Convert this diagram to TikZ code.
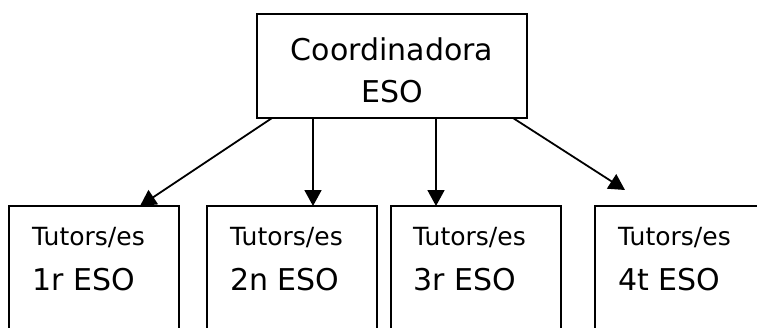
\documentclass[tikz,border=0pt]{standalone}
\usepackage{fontspec}
\setmainfont{DejaVu Sans}
\usetikzlibrary{arrows.meta}
\begin{document}
\begin{tikzpicture}[x=1pt,y=-1pt,
        coordbox/.style={draw,line width=1.8pt,outer sep=0pt,minimum width=270pt,minimum height=104pt,
            align=center,font=\fontsize{30}{42}\selectfont,text height=73pt,text depth=0pt},
        tutorbox/.style={draw,line width=1.8pt,outer sep=0pt,anchor=north west,minimum width=170pt,minimum height=160pt},
        tutortext/.style={anchor=base west,align=left,inner sep=0pt,font=\fontsize{25}{45}\selectfont},
        arr/.style={line width=1.8pt,-{Triangle[length=16pt,width=17pt]}}]
    \useasboundingbox (0,0) rectangle (757,327);
    \clip (0,0) rectangle (757,327);
    \node[coordbox] (coord) at (392,66) {Coordinadora\\ESO};
    \node[tutorbox] (t1) at (9,206) {};
    \node[tutorbox] (t2) at (207,206) {};
    \node[tutorbox] (t3) at (391,206) {};
    \node[tutorbox] (t4) at (595,206) {};
    \node[tutortext] (l1) at (32,290) {Tutors/es\\{\fontsize{30}{45}\selectfont 1r ESO}};
    \node[tutortext] (l2) at (230,290) {Tutors/es\\{\fontsize{30}{45}\selectfont 2n ESO}};
    \node[tutortext] (l3) at (413,290) {Tutors/es\\{\fontsize{30}{45}\selectfont 3r ESO}};
    \node[tutortext] (l4) at (618,290) {Tutors/es\\{\fontsize{30}{45}\selectfont 4t ESO}};
    \draw[arr] ([xshift=15pt]coord.south west) -- ([xshift=131pt]t1.north west);
    \draw[arr] ([xshift=56pt]coord.south west) -- ([xshift=106pt]t2.north west);
    \draw[arr] ([xshift=179pt]coord.south west) -- ([xshift=45pt]t3.north west);
    \draw[arr] ([xshift=-14pt]coord.south east) -- ([xshift=30pt,yshift=16pt]t4.north west);
\end{tikzpicture}
\end{document}
